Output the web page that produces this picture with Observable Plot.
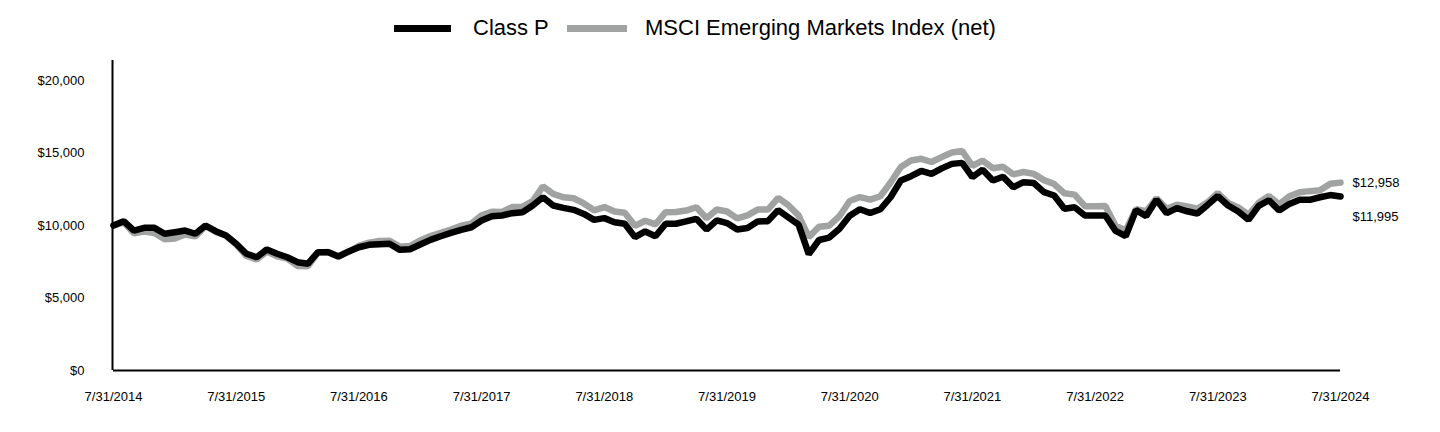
<!DOCTYPE html>
<html><head><meta charset="utf-8">
<script src="https://cdn.jsdelivr.net/npm/d3@7"></script>
<script src="https://cdn.jsdelivr.net/npm/@observablehq/plot@0.6"></script>
<style>
body{margin:0;background:#fff;font-family:"Liberation Sans",Arial,sans-serif;}
#legend{position:relative;height:56px;width:1440px;}
.sw{position:absolute;top:24.5px;height:7px;}
.lt{position:absolute;top:15px;font-size:22px;line-height:26px;color:#000;white-space:nowrap;}
</style></head><body>
<div id="legend"></div>
<div id="chart"></div>
<script>
const seriesNames = ["Class P", "MSCI Emerging Markets Index (net)"];
const seriesColors = ["#000000", "#a0a3a2"];
const xTickLabels = ["7/31/2014","7/31/2015","7/31/2016","7/31/2017","7/31/2018","7/31/2019","7/31/2020","7/31/2021","7/31/2022","7/31/2023","7/31/2024"];
const yTicks = [0, 5000, 10000, 15000, 20000];

// Monthly growth of $10,000, 7/31/2014 .. 7/31/2024
const classP = [
10000,10300,9650,9840,9840,9430,9540,9650,9430,10000,9610,9310,
8740,8050,7810,8350,8050,7810,7470,7360,8160,8160,7860,8210,
8500,8670,8710,8740,8320,8360,8690,9010,9260,9490,9700,9880,
10345,10640,10690,10850,10920,11380,11950,11380,11220,11080,10800,10390,
10510,10230,10120,9200,9590,9260,10120,10120,10280,10460,9720,10350,
10170,9730,9830,10280,10300,11060,10560,10060,8030,9000,9170,9770,
10670,11120,10860,11120,11950,13100,13400,13760,13560,13940,14250,14320,
13330,13850,13100,13360,12640,12990,12930,12300,12070,11150,11260,10690,
10690,10690,9630,9270,11060,10650,11780,10850,11200,10980,10830,11420,
12030,11380,10970,10390,11350,11740,11030,11490,11770,11770,11950,12100,
11995];
const msci = [
10000,10220,9470,9580,9480,9060,9100,9380,9250,9950,9560,9310,
8680,7900,7660,8200,7880,7710,7210,7190,8130,8170,7870,8190,
8600,8820,8930,8950,8540,8580,8970,9270,9500,9720,9980,10130,
10710,10950,10930,11270,11300,11680,12700,12180,11950,11880,11520,11050,
11270,10960,10880,9980,10330,10080,10920,10930,11030,11260,10500,11100,
10970,10490,10700,11100,11100,11910,11400,10700,9200,9910,9990,10640,
11690,11960,11790,12020,12970,14030,14480,14600,14380,14720,15030,15140,
14120,14470,13950,14050,13530,13690,13560,13130,12860,12220,12130,11330,
11320,11340,9990,9660,11120,10990,11880,11150,11430,11310,11160,11600,
12240,11560,11240,10740,11570,12030,11460,12020,12290,12370,12430,12880,
12958];

// legend
const legend = document.getElementById("legend");
const legendPos = [{sw:394, w:57, t:473}, {sw:567, w:60, t:645}];
seriesNames.forEach((name, k) => {
  const s = document.createElement("div");
  s.className = "sw";
  s.style.left = legendPos[k].sw + "px";
  s.style.width = legendPos[k].w + "px";
  s.style.background = seriesColors[k];
  legend.appendChild(s);
  const t = document.createElement("div");
  t.className = "lt";
  t.style.left = legendPos[k].t + "px";
  t.textContent = name;
  legend.appendChild(t);
});

const rows = (vals, name) => vals.map((v, i) => ({month: i, value: v, series: name}));
const pRows = rows(classP, seriesNames[0]);
const mRows = rows(msci, seriesNames[1]);
const endLabels = [
  {month: msci.length - 1, value: msci[msci.length - 1]},
  {month: classP.length - 1, value: classP[classP.length - 1]}
];
const fmt = d3.format("$,");

const chart = Plot.plot({
  width: 1440,
  height: 376,
  marginTop: 4,
  marginBottom: 62,
  marginLeft: 113,
  marginRight: 100,
  style: {fontFamily: '"Liberation Sans", Arial, sans-serif', fontSize: "13px", color: "#000", background: "#fff", overflow: "visible"},
  x: {domain: [0, 120], axis: null, label: null},
  y: {domain: [0, 21380], axis: null, label: null},
  marks: [
    Plot.axisY({ticks: yTicks, tickFormat: d => fmt(d), tickSize: 0, tickPadding: 29, fontSize: 13, label: null}),
    Plot.axisX({ticks: xTickLabels.map((d, k) => k * 12), tickFormat: i => xTickLabels[i / 12], tickSize: 0, tickPadding: 21, fontSize: 13, label: null}),
    Plot.lineY(mRows, {x: "month", y: "value", stroke: seriesColors[1], strokeWidth: 6.5, strokeLinejoin: "miter"}),
    Plot.lineY(pRows, {x: "month", y: "value", stroke: seriesColors[0], strokeWidth: 6.5, strokeLinejoin: "miter"}),
    Plot.ruleX([0], {stroke: "#000", strokeWidth: 2, dx: -1}),
    Plot.ruleY([0], {stroke: "#000", strokeWidth: 2}),
    Plot.text(endLabels.slice(0, 1), {x: "month", y: "value", text: d => fmt(d.value), dx: 12, dy: 0, textAnchor: "start", fontSize: 13, fill: "#000"}),
    Plot.text(endLabels.slice(1), {x: "month", y: "value", text: d => fmt(d.value), dx: 12, dy: 20, textAnchor: "start", fontSize: 13, fill: "#000"})
  ]
});
document.getElementById("chart").appendChild(chart);
</script></body></html>
